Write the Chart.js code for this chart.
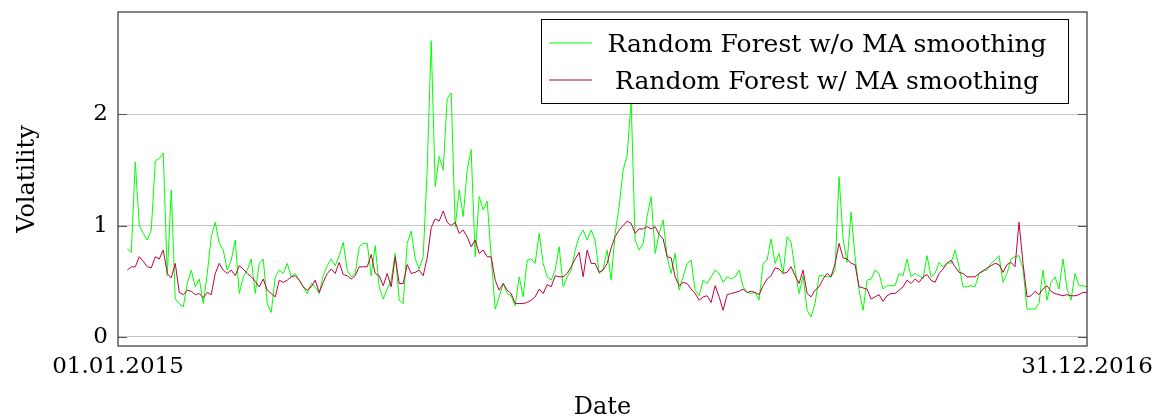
<!DOCTYPE html>
<html>
<head>
<meta charset="utf-8">
<title>Volatility</title>
<script src="https://cdn.jsdelivr.net/npm/chart.js@4.4.1/dist/chart.umd.min.js"></script>
<style>
  html, body { margin: 0; padding: 0; background: #fff; }
  #wrap { width: 1158px; height: 417px; }
</style>
</head>
<body>
<div id="wrap"><canvas id="volChart" width="1158" height="417"></canvas></div>
<script>
// axis ticks
const xTickDays = [0, 730];
const xTickLabels = ["01.01.2015", "31.12.2016"];
const yTickValues = [0, 1, 2];

// sampled period (days after 01.01.2015)
const firstDay = 7;
const lastDay = 730;

const seriesNames = ["Random Forest w/o MA smoothing", "Random Forest w/ MA smoothing"];

// Random Forest w/o MA smoothing
const volNoMA = [
  0.79, 0.76, 1.57, 1.0, 0.93, 0.87, 0.96, 1.58, 1.6, 1.65, 0.55, 1.32, 0.34, 0.3, 0.27, 0.48, 0.6, 0.45, 0.52, 0.3, 0.57, 0.9, 1.03,
  0.84, 0.78, 0.6, 0.69, 0.87, 0.39, 0.54, 0.6, 0.7, 0.39, 0.66, 0.7, 0.3, 0.22, 0.54, 0.6, 0.57, 0.66, 0.54, 0.57, 0.51, 0.45, 0.39, 0.48, 0.45, 0.39, 0.55, 0.64, 0.7, 0.64, 0.73,
  0.85, 0.6, 0.54, 0.57, 0.81, 0.84, 0.84, 0.55, 0.82, 0.45, 0.34, 0.43, 0.51, 0.75, 0.33, 0.3, 0.84, 0.95, 0.7, 0.61, 0.72, 1.5, 2.66, 1.35, 1.62, 1.5, 2.14, 2.19, 0.99, 1.32, 1.08,
  1.5, 1.68, 0.72, 1.26, 1.14, 1.22, 0.72, 0.25, 0.36, 0.48, 0.39, 0.37, 0.28, 0.54, 0.36, 0.69, 0.7, 0.66, 0.93, 0.66, 0.54, 0.51, 0.6, 0.81, 0.45, 0.54, 0.6, 0.78, 0.9, 0.96, 0.87,
  0.96, 0.87, 0.57, 0.61, 0.78, 0.51, 0.93, 1.17, 1.5, 1.63, 2.12, 0.87, 0.78, 0.84, 1.08, 1.26, 0.75, 0.93, 1.05, 0.72, 0.57, 0.75, 0.42, 0.54, 0.66, 0.69, 0.42, 0.37, 0.51, 0.48, 0.54, 0.6,
  0.57, 0.49, 0.54, 0.52, 0.54, 0.6, 0.45, 0.4, 0.39, 0.4, 0.33, 0.66, 0.69, 0.88, 0.66, 0.75, 0.57, 0.9, 0.85, 0.6, 0.39, 0.55, 0.24, 0.18, 0.3, 0.55, 0.55, 0.54, 0.54, 0.6, 1.44,
  0.88, 0.67, 1.12, 0.72, 0.42, 0.24, 0.51, 0.52, 0.6, 0.57, 0.43, 0.46, 0.46, 0.46, 0.57, 0.55, 0.7, 0.54, 0.57, 0.55, 0.52, 0.73, 0.54, 0.57, 0.67, 0.63, 0.67, 0.66, 0.78, 0.63, 0.45,
  0.45, 0.46, 0.45, 0.57, 0.6, 0.6, 0.66, 0.69, 0.73, 0.49, 0.57, 0.7, 0.72, 0.73, 0.61, 0.25, 0.25, 0.25, 0.3, 0.6, 0.33, 0.49, 0.54, 0.43, 0.7, 0.43, 0.33, 0.57, 0.46, 0.46, 0.45
];

// Random Forest w/ MA smoothing
const volMA = [
  0.6, 0.63, 0.63, 0.72, 0.68, 0.63, 0.62, 0.72, 0.7, 0.78, 0.57, 0.53, 0.66, 0.4, 0.38, 0.42, 0.41, 0.38, 0.39, 0.35, 0.4, 0.38, 0.57,
  0.66, 0.6, 0.57, 0.6, 0.55, 0.64, 0.61, 0.57, 0.54, 0.5, 0.45, 0.52, 0.42, 0.39, 0.36, 0.51, 0.49, 0.51, 0.54, 0.55, 0.51, 0.45, 0.42, 0.45, 0.51, 0.4, 0.49, 0.57, 0.61, 0.57, 0.67,
  0.56, 0.55, 0.52, 0.55, 0.63, 0.63, 0.63, 0.74, 0.57, 0.55, 0.46, 0.57, 0.45, 0.72, 0.48, 0.48, 0.65, 0.57, 0.58, 0.6, 0.55, 0.71, 0.98, 1.06, 1.04, 1.13, 1.03, 1.0, 1.03, 0.93, 0.96,
  0.9, 0.81, 0.87, 0.75, 0.78, 0.72, 0.72, 0.51, 0.42, 0.48, 0.42, 0.39, 0.3, 0.3, 0.3, 0.31, 0.33, 0.36, 0.43, 0.39, 0.47, 0.45, 0.55, 0.54, 0.54, 0.57, 0.63, 0.7, 0.76, 0.54, 0.78,
  0.66, 0.66, 0.58, 0.6, 0.66, 0.8, 0.9, 0.96, 1.0, 1.04, 1.02, 0.93, 0.97, 0.97, 0.99, 0.97, 0.99, 0.92, 0.88, 0.72, 0.71, 0.54, 0.46, 0.49, 0.48, 0.43, 0.39, 0.33, 0.36, 0.37, 0.31, 0.46,
  0.36, 0.24, 0.38, 0.39, 0.4, 0.41, 0.43, 0.4, 0.41, 0.4, 0.38, 0.46, 0.52, 0.55, 0.62, 0.61, 0.57, 0.58, 0.63, 0.55, 0.48, 0.6, 0.39, 0.36, 0.42, 0.45, 0.52, 0.57, 0.54, 0.66, 0.84,
  0.71, 0.7, 0.66, 0.65, 0.45, 0.44, 0.43, 0.34, 0.36, 0.38, 0.32, 0.37, 0.39, 0.39, 0.42, 0.45, 0.51, 0.48, 0.52, 0.49, 0.54, 0.56, 0.51, 0.49, 0.57, 0.61, 0.66, 0.69, 0.63, 0.58, 0.57,
  0.54, 0.54, 0.54, 0.57, 0.59, 0.62, 0.64, 0.66, 0.65, 0.58, 0.65, 0.67, 0.63, 1.03, 0.66, 0.36, 0.37, 0.41, 0.38, 0.43, 0.46, 0.41, 0.39, 0.38, 0.37, 0.38, 0.37, 0.37, 0.38, 0.4, 0.4
];

const serif = "'DejaVu Serif', 'Liberation Serif', serif";

const sampleDays = volNoMA.map((_, i) => firstDay + i * (lastDay - firstDay) / (volNoMA.length - 1));
const toPoints = vals => vals.map((v, i) => ({ x: sampleDays[i], y: v }));

// frame, inner tick marks and the boxed legend (pgfplots look)
const pgfLook = {
    id: "pgfLook",
    afterDatasetsDraw(chart) {
        const { ctx, chartArea: ca } = chart;
        const y = chart.scales.y;
        ctx.save();
        ctx.strokeStyle = "#555";
        ctx.lineWidth = 1;
        y.ticks.forEach(t => {
            const py = Math.round(y.getPixelForValue(t.value)) + 0.5;
            ctx.beginPath();
            ctx.moveTo(ca.left, py); ctx.lineTo(ca.left + 9, py);
            ctx.moveTo(ca.right - 9, py); ctx.lineTo(ca.right, py);
            ctx.stroke();
        });
        ctx.strokeStyle = "#444";
        ctx.lineWidth = 1.3;
        ctx.strokeRect(ca.left, ca.top, ca.right - ca.left, ca.bottom - ca.top);

        // legend box
        const bx = ca.right - 546, by = ca.top + 7, bw = 527, bh = 84;
        ctx.fillStyle = "#fff";
        ctx.fillRect(bx, by, bw, bh);
        ctx.strokeStyle = "#000";
        ctx.lineWidth = 1;
        ctx.strokeRect(bx + 0.5, by + 0.5, bw, bh);
        ctx.font = "25px " + serif;
        ctx.textAlign = "center";
        ctx.textBaseline = "alphabetic";
        chart.data.datasets.forEach((ds, i) => {
            const ry = by + 24 + i * 37;
            ctx.strokeStyle = ds.borderColor;
            ctx.lineWidth = 1;
            ctx.beginPath();
            ctx.moveTo(bx + 8, ry); ctx.lineTo(bx + 51, ry);
            ctx.stroke();
            ctx.fillStyle = "#000";
            ctx.fillText(ds.label, bx + 286, ry + 8.5);
        });
        ctx.restore();
    }
};

new Chart(document.getElementById("volChart"), {
    type: "line",
    data: {
        datasets: [
            {
                label: seriesNames[0],
                data: toPoints(volNoMA),
                borderColor: "#00ff00",
                borderWidth: 1,
                pointRadius: 0,
                order: 1
            },
            {
                label: seriesNames[1],
                data: toPoints(volMA),
                borderColor: "#bf0040",
                borderWidth: 1,
                pointRadius: 0,
                order: 0
            }
        ]
    },
    options: {
        responsive: false,
        animation: false,
        layout: { padding: { top: 12, right: 71, left: 0, bottom: 0 } },
        plugins: {
            legend: { display: false },
            tooltip: { enabled: false }
        },
        scales: {
            x: {
                type: "linear",
                min: xTickDays[0],
                max: xTickDays[xTickDays.length - 1],
                afterBuildTicks: s => { s.ticks = xTickDays.map(v => ({ value: v })); },
                afterFit: s => { s.height = 71; s.paddingLeft = 0; s.paddingRight = 0; },
                grid: { display: false, drawTicks: false },
                border: { display: false },
                ticks: {
                    color: "#000",
                    padding: 7,
                    maxRotation: 0,
                    autoSkip: false,
                    font: { family: serif, size: 23, lineHeight: 1.2 },
                    callback: v => xTickLabels[xTickDays.indexOf(v)]
                },
                title: {
                    display: true,
                    text: "Date",
                    color: "#000",
                    padding: 0,
                    font: { family: serif, size: 24, lineHeight: 0.8 }
                }
            },
            y: {
                min: -0.081,
                max: 2.917,
                afterBuildTicks: s => { s.ticks = yTickValues.map(v => ({ value: v })); },
                afterFit: s => { s.width = 118; s.paddingTop = 0; s.paddingBottom = 0; },
                grid: { color: "#c4c4c4", lineWidth: 1, drawTicks: false },
                border: { display: false },
                ticks: {
                    color: "#000",
                    padding: 10,
                    font: { family: serif, size: 23 }
                },
                title: {
                    display: true,
                    text: "Volatility",
                    color: "#000",
                    padding: { top: 18, bottom: 0 },
                    font: { family: serif, size: 24, lineHeight: 0.8 }
                }
            }
        }
    },
    plugins: [pgfLook]
});
</script>
</body>
</html>
